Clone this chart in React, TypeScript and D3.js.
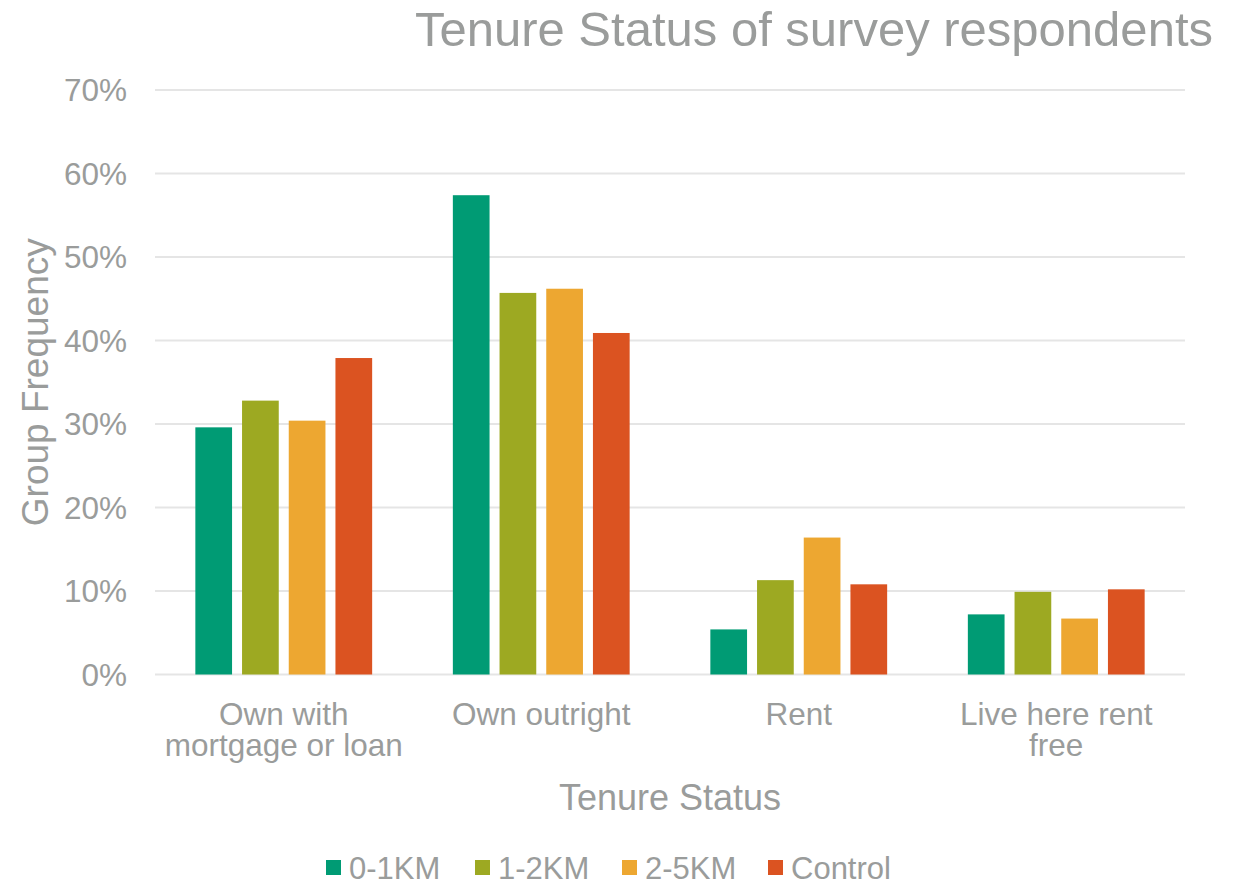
import React from "react";
import * as d3 from "d3";

const categories = [["Own with", "mortgage or loan"], ["Own outright"], ["Rent"], ["Live here rent", "free"]];
const categoryKeys = ["Own with mortgage or loan", "Own outright", "Rent", "Live here rent free"];
const seriesNames = ["0-1KM", "1-2KM", "2-5KM", "Control"];
const seriesColors = ["#009B74", "#9DA922", "#EDA731", "#DB5321"];
const v01 = [29.6, 57.4, 5.4, 7.2];
const v12 = [32.8, 45.7, 11.3, 9.9];
const v25 = [30.4, 46.2, 16.4, 6.7];
const vCtl = [37.9, 40.9, 10.8, 10.2];
const seriesValues = [v01, v12, v25, vCtl];
const yTicks = [0, 10, 20, 30, 40, 50, 60, 70];

const W = 1237, H = 883;
const left = 155, right = 1185, top = 90, bottom = 674.5;
const textColor = "#9A9C9B";
const font = "'Liberation Sans', Arial, sans-serif";

export default function App() {
  const x0 = d3.scaleBand<string>().domain(categoryKeys).range([left, right]).padding(0);
  const x1 = d3.scaleBand<string>().domain(seriesNames).range([0, x0.bandwidth()]).paddingInner(0.214).paddingOuter(0.864);
  const y = d3.scaleLinear().domain([0, 70]).range([bottom, top]);

  const legendX = [326, 475, 622, 768];

  return (
    <div style={{ position: "absolute", left: 0, top: 0 }}>
      <svg width={W} height={H} style={{ display: "block", fontFamily: font }}>
        <rect width={W} height={H} fill="#fff" />
        <text x={1213} y={46} textAnchor="end" fontSize={49} fill={textColor}>Tenure Status of survey respondents</text>
        {yTicks.map((t) => (
          <g key={t}>
            <line x1={left} x2={right} y1={y(t)} y2={y(t)} stroke="#E5E5E5" strokeWidth={2} />
            <text x={127} y={y(t)} dy="0.36em" textAnchor="end" fontSize={31.5} fill={textColor}>{t}%</text>
          </g>
        ))}
        {categoryKeys.map((c, ci) => (
          <g key={c} transform={`translate(${x0(c)},0)`}>
            {seriesNames.map((s, si) => {
              const v = seriesValues[si][ci];
              return (
                <rect key={s} x={x1(s)} y={y(v)} width={x1.bandwidth()} height={y(0) - y(v)} fill={seriesColors[si]} />
              );
            })}
            <text x={x0.bandwidth() / 2} y={725} textAnchor="middle" fontSize={31.5} fill={textColor}>
              {categories[ci].map((line, li) => (
                <tspan key={li} x={x0.bandwidth() / 2} dy={li === 0 ? 0 : 31}>{line}</tspan>
              ))}
            </text>
          </g>
        ))}
        <text x={670} y={810} textAnchor="middle" fontSize={36} fill={textColor}>Tenure Status</text>
        <text transform={`translate(48,${(top + bottom) / 2}) rotate(-90)`} textAnchor="middle" fontSize={37} fill={textColor}>Group Frequency</text>
        {seriesNames.map((s, i) => (
          <g key={s}>
            <rect x={legendX[i]} y={860} width={15} height={15} fill={seriesColors[i]} />
            <text x={legendX[i] + 23} y={879} fontSize={31} fill={textColor}>{s}</text>
          </g>
        ))}
      </svg>
    </div>
  );
}
